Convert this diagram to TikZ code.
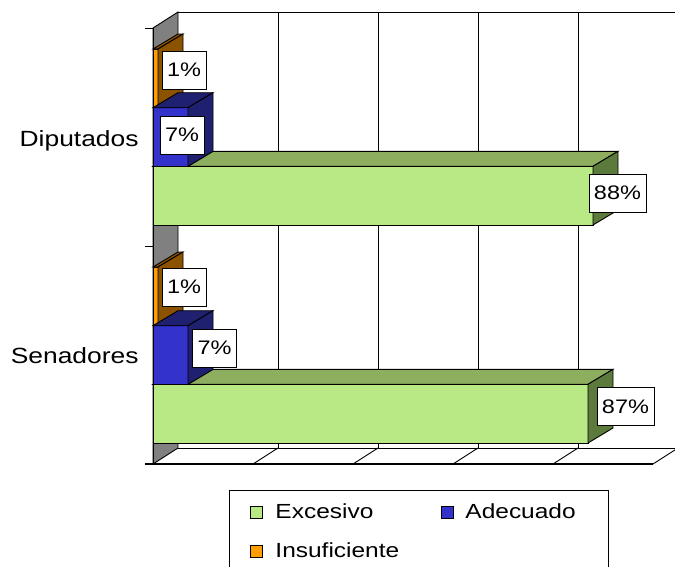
\documentclass[tikz,border=0pt]{standalone}
\usepackage{fontspec}
\newfontfamily\chartfont[FakeStretch=1.2]{Liberation Sans}
\usepackage{tikz}
\usetikzlibrary{calc}
\definecolor{greenfront}{HTML}{B9E985}
\definecolor{greentop}{HTML}{8CAE5E}
\definecolor{greenside}{HTML}{5C7A3B}
\definecolor{bluefront}{HTML}{3333CC}
\definecolor{blueside}{HTML}{202070}
\definecolor{orangefront}{HTML}{FF9E00}
\definecolor{orangeside}{HTML}{8B5200}
\definecolor{wallgrey}{HTML}{808080}

\begin{document}
\begin{tikzpicture}[x=1pt, y=-1pt, line width=0.9pt,
    pctlabel/.style={draw=black, fill=white, line width=0.8pt, inner xsep=5pt, minimum height=38pt, font=\chartfont\fontsize{19.6}{22}\selectfont},
    catlabel/.style={anchor=base east, inner sep=0pt, font=\chartfont\fontsize{22}{24}\selectfont},
    leglabel/.style={anchor=base west, inner sep=0pt, font=\chartfont\fontsize{20.4}{22}\selectfont},
    legkey/.style={draw=black, line width=0.8pt, minimum size=12pt, inner sep=0pt}]
    \useasboundingbox (0,0) rectangle (675,566);
    \clip (0,0) rectangle (675,566);
    % Draw side wall
    \filldraw[fill=wallgrey] (153,28) -- (178,12) -- (178,448) -- (153,464) -- cycle;
    % Draw back wall grid
    \draw (178,12) -- (680,12);
    \foreach \k in {1, 2, 3, 4, 5}
    {
        \draw (178+100*\k,12) -- (178+100*\k,448);
    }
    % Draw floor
    \draw (178,448) -- (680,448);
    \draw[line width=1.4pt] (145,464) -- (653,464);
    \foreach \k in {1, 2, 3, 4, 5}
    {
        \draw (153+100*\k,464) -- (178+100*\k,448);
    }
    % Draw axis and ticks
    \draw (153,28) -- (153,464);
    \draw (145,28) -- (153,28);
    \draw (145,246) -- (153,246);
    % Draw bars: top / value / front / top face / side face
    \foreach \ytop/\val/\fc/\tc/\sc in {49/1/orangefront/orangeside/orangeside,
        166.3/88/greenfront/greentop/greenside,
        107.7/7/bluefront/blueside/blueside,
        267/1/orangefront/orangeside/orangeside,
        384.3/87/greenfront/greentop/greenside,
        325.7/7/bluefront/blueside/blueside}
    {
        \pgfmathsetmacro{\xr}{153+5*\val}
        \pgfmathsetmacro{\ybot}{\ytop+58.7}
        \filldraw[fill=\fc] (153,\ytop) rectangle (\xr,\ybot);
        \filldraw[fill=\tc] (153,\ytop) -- (\xr,\ytop) -- ++(25,-15) -- (178,\ytop-15) -- cycle;
        \filldraw[fill=\sc] (\xr,\ytop) -- ++(25,-15) -- ++(0,58.7) -- (\xr,\ybot) -- cycle;
    }
    % Value labels
    \node[pctlabel] (dipins) at (184,70) {1\%};
    \node[pctlabel] (dipade) at (182,135) {7\%};
    \node[pctlabel] (dipexc) at (617.5,193) {88\%};
    \node[pctlabel] (senins) at (184,287) {1\%};
    \node[pctlabel] (senade) at (214.5,348) {7\%};
    \node[pctlabel] (senexc) at (625.5,406.5) {87\%};
    % Category labels
    \node[catlabel] (dip) at (139,146) {Diputados};
    \node[catlabel] (sen) at (139,363) {Senadores};
    % Legend
    \draw[line width=0.8pt] (229,490) rectangle (608,590);
    \node[legkey, fill=greenfront] (keyexc) at (256,512) {};
    \node[leglabel] (legexc) at (275,518) {Excesivo};
    \node[legkey, fill=bluefront] (keyade) at (447.5,512) {};
    \node[leglabel] (legade) at (465,518) {Adecuado};
    \node[legkey, fill=orangefront] (keyins) at (256,551) {};
    \node[leglabel] (legins) at (275,557) {Insuficiente};
\end{tikzpicture}
\end{document}
